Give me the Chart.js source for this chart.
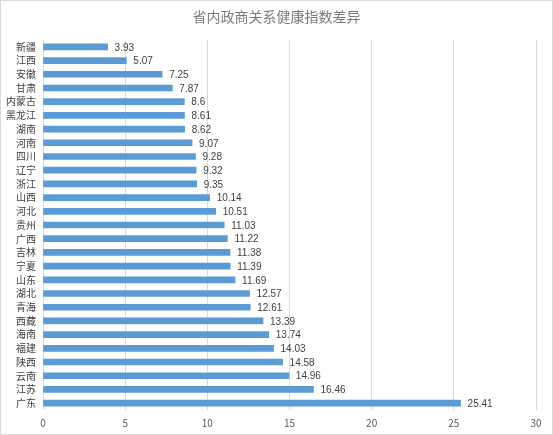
<!DOCTYPE html>
<html>
<head>
<meta charset="utf-8">
<script src="https://cdn.jsdelivr.net/npm/chart.js@4"></script>
<style>
    body { margin: 0; background: #fff; }
    #wrap { width: 551px; height: 433px; border: 1px solid #d9d9d9; }
</style>
</head>
<body>
<div id="wrap"><canvas id="barChart" width="551" height="433"></canvas></div>
<script>
// Chart data
const chartTitle = '省内政商关系健康指数差异';
const provinces = ['新疆', '江西', '安徽', '甘肃', '内蒙古', '黑龙江', '湖南', '河南', '四川', '辽宁',
    '浙江', '山西', '河北', '贵州', '广西', '吉林', '宁夏', '山东', '湖北', '青海',
    '西藏', '海南', '福建', '陕西', '云南', '江苏', '广东'];
const indexDiff = [3.93, 5.07, 7.25, 7.87, 8.6, 8.61, 8.62, 9.07, 9.28, 9.32,
    9.35, 10.14, 10.51, 11.03, 11.22, 11.38, 11.39, 11.69, 12.57, 12.61,
    13.39, 13.74, 14.03, 14.58, 14.96, 16.46, 25.41];
const xTicks = [0, 5, 10, 15, 20, 25, 30];

const FONT = '"Noto Sans CJK SC", "Noto Sans", sans-serif';

// Title centred on the whole canvas (built-in title centres on the padded box)
const centredTitle = {
    id: 'centredTitle',
    afterDraw(chart) {
        const c = chart.ctx;
        c.save();
        c.font = '14px ' + FONT;
        c.fillStyle = '#7a7a7a';
        c.textAlign = 'center';
        c.textBaseline = 'middle';
        c.fillText(chartTitle, chart.width / 2, 16);
        c.restore();
    }
};

// Value labels at the end of each bar
const valueLabels = {
    id: 'valueLabels',
    afterDatasetsDraw(chart) {
        const c = chart.ctx;
        const meta = chart.getDatasetMeta(0);
        c.save();
        c.font = '10px "Liberation Sans", "Noto Sans", sans-serif';
        c.fillStyle = '#404040';
        c.textBaseline = 'middle';
        meta.data.forEach((bar, i) => {
            c.fillText(String(indexDiff[i]), bar.x + 7, bar.y + 1);
        });
        c.restore();
    }
};

const ctx = document.getElementById('barChart').getContext('2d');
new Chart(ctx, {
    type: 'bar',
    data: {
        labels: provinces,
        datasets: [{
            data: indexDiff,
            backgroundColor: '#5b9bd5',
            barThickness: 6
        }]
    },
    options: {
        indexAxis: 'y',
        responsive: false,
        animation: false,
        layout: { padding: { left: 0, right: 16, top: 39, bottom: 0 } },
        plugins: {
            legend: { display: false },
            tooltip: { enabled: false },
            title: { display: false }
        },
        scales: {
            x: {
                min: 0,
                max: 30,
                afterBuildTicks: (scale) => { scale.ticks = xTicks.map(v => ({ value: v })); },
                afterFit: (scale) => { scale.height = 24; },
                grid: { color: '#d9d9d9', drawTicks: false },
                border: { display: false },
                ticks: { color: '#595959', padding: 7, font: { family: FONT, size: 10 } }
            },
            y: {
                afterFit: (scale) => { scale.width = 42; },
                grid: { display: false, drawTicks: false },
                border: { display: false },
                ticks: { color: '#404040', padding: 7, autoSkip: false, font: { family: FONT, size: 10 } }
            }
        }
    },
    plugins: [valueLabels, centredTitle]
});
</script>
</body>
</html>
